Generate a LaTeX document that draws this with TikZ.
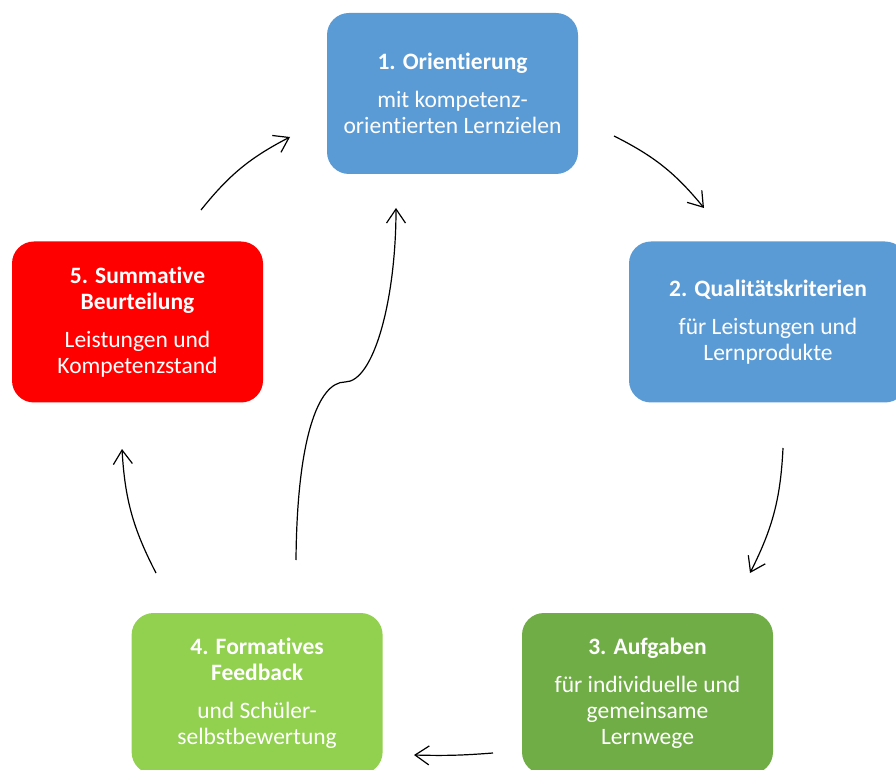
\documentclass[tikz,border=0pt]{standalone}
\usepackage{fontspec}
\setmainfont{Carlito}[Ligatures=NoCommon]
\usetikzlibrary{arrows.meta, positioning}

\definecolor{stepblue}{HTML}{5B9BD5}
\definecolor{stepgreen}{HTML}{70AD47}
\definecolor{steplime}{HTML}{92D050}
\definecolor{stepred}{HTML}{FF0000}

\begin{document}
\begin{tikzpicture}[x=1pt, y=1pt]

    \tikzstyle{block} = [rectangle, rounded corners=22pt, minimum width=251pt,
                         minimum height=161pt, inner sep=0pt, align=center,
                         text=white, font=\fontsize{23.5}{26}\selectfont]
    \tikzstyle{cycle} = [draw=black, line width=1.2pt,
                         -{Straight Barb[length=14pt, width=19pt, line width=1.2pt]}]

    \useasboundingbox (0,0) rectangle (896,769);

    % Orientierung
    \node [block, fill=stepblue] (orient) at (452.5,675.5)
        {\textbf{1. Orientierung}\\[12pt]mit kompetenz-\\orientierten Lernzielen};

    % Qualitaetskriterien
    \node [block, fill=stepblue, minimum width=278pt] (krit) at (768,447)
        {\textbf{2. Qualitätskriterien}\\[12pt]für Leistungen und\\Lernprodukte};

    % Aufgaben
    \node [block, fill=stepgreen] (aufg) at (647.5,75.5)
        {\textbf{3. Aufgaben}\\[12pt]für individuelle und\\gemeinsame\\Lernwege};

    % Formatives Feedback
    \node [block, fill=steplime, left=139pt of aufg] (feedb)
        {\textbf{4. Formatives}\\\textbf{Feedback}\\[12pt]und Schüler-\\selbstbewertung};

    % Summative Beurteilung
    \node [block, fill=stepred] (summ) at (137.5,447)
        {\textbf{5. Summative}\\\textbf{Beurteilung}\\[12pt]Leistungen und\\Kompetenzstand};

    % Arrow ends
    \coordinate (summ-out) at (201,559);
    \coordinate (orient-in) at (290,632);
    \coordinate (orient-out) at (614,633);
    \coordinate (krit-in) at (704,561);
    \coordinate (krit-out) at (783,321);
    \coordinate (aufg-in) at (750,196);
    \coordinate (aufg-out) at (493,16);
    \coordinate (feedb-in) at (414,14);
    \coordinate (feedb-out) at (156,196);
    \coordinate (summ-in) at (122,320);
    \coordinate (back-out) at (296,209);
    \coordinate (back-mid) at (345,387);
    \coordinate (back-in) at (396,561);

    % Connect the steps
    \draw [cycle] (summ-out) to [bend left=12] (orient-in);
    \draw [cycle] (orient-out) to [bend left=12] (krit-in);
    \draw [cycle] (krit-out) to [bend left=12] (aufg-in);
    \draw [cycle] (aufg-out) to [bend left=3] (feedb-in);
    \draw [cycle] (feedb-out) to [bend left=12] (summ-in);
    \draw [cycle] (back-out) .. controls (297,330) and (318,387) .. (back-mid)
                             .. controls (374,387) and (396,470) .. (back-in);

\end{tikzpicture}
\end{document}
